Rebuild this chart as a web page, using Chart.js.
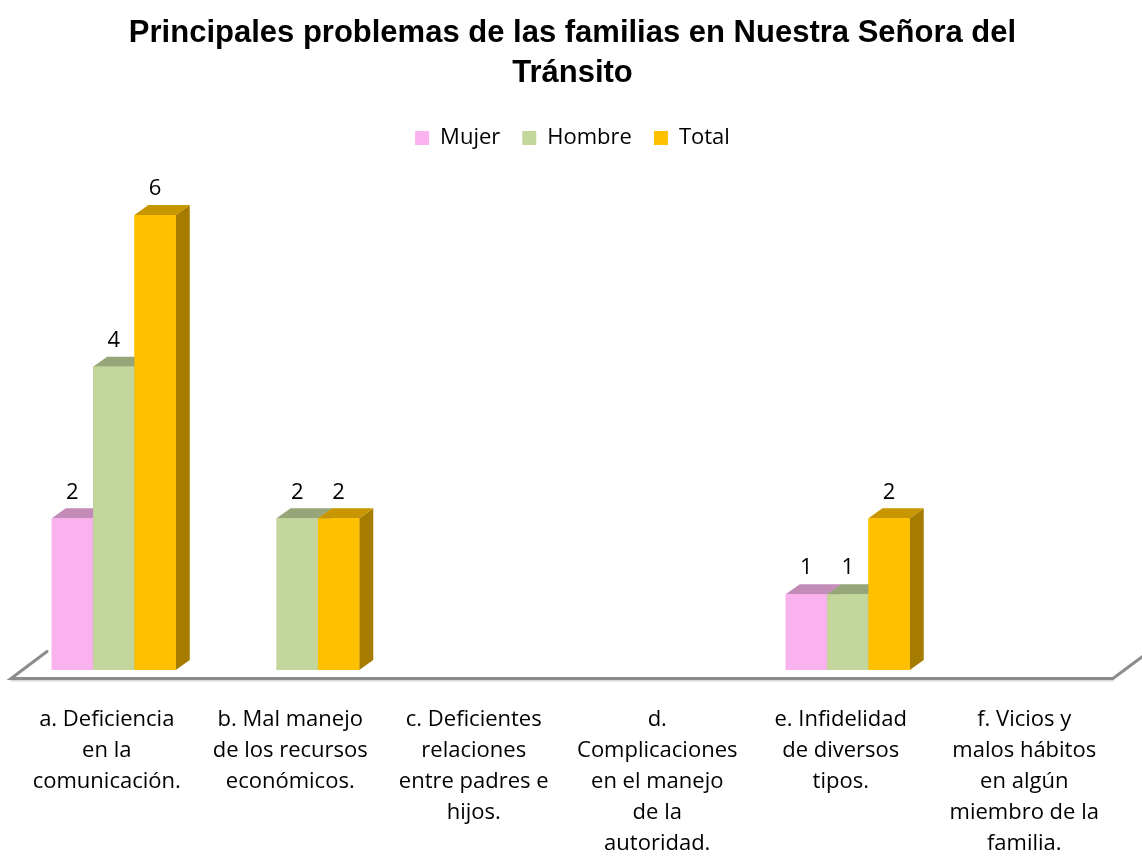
<!DOCTYPE html>
<html lang="es">
  <head>
    <meta charset="UTF-8" />
    <title>Principales problemas de las familias</title>
    <script src="https://cdn.jsdelivr.net/npm/chart.js"></script>
    <style>
      body {
        margin: 0;
        padding: 0;
        background: #ffffff;
      }
      .chart-container {
        position: relative;
        width: 1142px;
        height: 858px;
      }
    </style>
  </head>
  <body>
    <div class="chart-container">
      <canvas id="problems-chart"></canvas>
    </div>

    <script>
      const categories = [
        ["a. Deficiencia", "en la", "comunicación."],
        ["b. Mal manejo", "de los recursos", "económicos."],
        ["c. Deficientes", "relaciones", "entre padres e", "hijos."],
        ["d.", "Complicaciones", "en el manejo", "de la", "autoridad."],
        ["e. Infidelidad", "de diversos", "tipos."],
        ["f. Vicios y", "malos hábitos", "en algún", "miembro de la", "familia."],
      ];
      const mujer = [2, 0, 0, 0, 1, 0];
      const hombre = [4, 2, 0, 0, 1, 0];
      const total = [6, 2, 0, 0, 2, 0];

      const fontFace = "'Open Sans', 'DejaVu Sans', sans-serif";
      const depthX = 14;
      const depthY = 10;

      // shade colors for the 3D faces, per dataset
      const faces = [
        { front: "#FAB2EE", top: "#C28BB8", side: "#B27FA9" },
        { front: "#C3D69B", top: "#97A678", side: "#8A986D" },
        { front: "#FFC000", top: "#C89600", side: "#A57C00" },
      ];

      const bars3d = {
        id: "bars3d",
        beforeDatasetsDraw(chart) {
          // floor outline
          const ctx = chart.ctx;
          const area = chart.chartArea;
          const base = chart.scales.y.getPixelForValue(0);
          const fy = base + 8.5;
          ctx.save();
          ctx.lineCap = "round";
          ctx.strokeStyle = "#D9D9D9";
          ctx.lineWidth = 2;
          ctx.beginPath();
          ctx.moveTo(area.left - 11, fy + 2);
          ctx.lineTo(area.right - 10, fy + 2);
          ctx.stroke();
          ctx.strokeStyle = "#8C8C8C";
          ctx.lineWidth = 3;
          ctx.beginPath();
          ctx.moveTo(area.left + 25, fy - 27);
          ctx.lineTo(area.left - 11, fy);
          ctx.lineTo(area.right - 10, fy);
          ctx.lineTo(area.right + 26, fy - 27);
          ctx.stroke();
          ctx.restore();
        },
        afterDatasetsDraw(chart) {
          const ctx = chart.ctx;
          const metas = chart.data.datasets.map((_, i) => chart.getDatasetMeta(i));
          ctx.save();
          for (let c = 0; c < chart.data.labels.length; c++) {
            metas.forEach((meta, i) => {
              const value = chart.data.datasets[i].data[c];
              if (!value) return;
              const bar = meta.data[c];
              const x0 = bar.x - bar.width / 2;
              const x1 = bar.x + bar.width / 2;
              const y0 = bar.y;
              const yb = bar.base;
              const f = faces[i];
              ctx.fillStyle = f.side;
              ctx.beginPath();
              ctx.moveTo(x1, y0);
              ctx.lineTo(x1 + depthX, y0 - depthY);
              ctx.lineTo(x1 + depthX, yb - depthY);
              ctx.lineTo(x1, yb);
              ctx.closePath();
              ctx.fill();
              ctx.fillStyle = f.top;
              ctx.beginPath();
              ctx.moveTo(x0, y0);
              ctx.lineTo(x1, y0);
              ctx.lineTo(x1 + depthX, y0 - depthY);
              ctx.lineTo(x0 + depthX, y0 - depthY);
              ctx.closePath();
              ctx.fill();
              ctx.fillStyle = f.front;
              ctx.fillRect(x0, y0, x1 - x0, yb - y0);
            });
          }
          // value labels
          ctx.fillStyle = "#000000";
          ctx.font = "22px " + fontFace;
          ctx.textAlign = "center";
          ctx.textBaseline = "middle";
          metas.forEach((meta, i) => {
            meta.data.forEach((bar, c) => {
              const value = chart.data.datasets[i].data[c];
              if (!value) return;
              ctx.fillText(String(value), bar.x, bar.y - 26);
            });
          });
          ctx.restore();
        },
      };

      const chart = new Chart(document.getElementById("problems-chart"), {
        type: "bar",
        data: {
          labels: categories,
          datasets: [
            { label: "Mujer", data: mujer, backgroundColor: faces[0].front },
            { label: "Hombre", data: hombre, backgroundColor: faces[1].front },
            { label: "Total", data: total, backgroundColor: faces[2].front },
          ],
        },
        options: {
          responsive: true,
          maintainAspectRatio: false,
          animation: false,
          layout: {
            padding: { left: 22, right: 19, top: 0, bottom: 0 },
          },
          datasets: {
            bar: {
              barPercentage: 1,
              categoryPercentage: 0.676,
            },
          },
          plugins: {
            title: {
              display: true,
              text: [
                "Principales problemas de las familias en Nuestra Señora del",
                "Tránsito",
              ],
              color: "#000000",
              font: {
                family: "'Liberation Sans', Arial, sans-serif",
                size: 31,
                weight: "bold",
                lineHeight: 1.29,
              },
              padding: { top: 13, bottom: 12 },
            },
            legend: {
              display: true,
              position: "top",
              labels: {
                color: "#000000",
                boxWidth: 14,
                boxHeight: 14,
                padding: 22,
                font: { family: fontFace, size: 22 },
              },
            },
            tooltip: { enabled: false },
          },
          scales: {
            x: {
              grid: { display: false, drawTicks: false },
              border: { display: false },
              afterFit(scale) {
                scale.height = 188;
              },
              ticks: {
                color: "#000000",
                padding: 34,
                labelOffset: -7,
                maxRotation: 0,
                autoSkip: false,
                font: { family: fontFace, size: 22, lineHeight: "31px" },
              },
            },
            y: {
              display: false,
              min: 0,
              max: 6.74,
            },
          },
        },
        plugins: [bars3d],
      });
    </script>
  </body>
</html>
